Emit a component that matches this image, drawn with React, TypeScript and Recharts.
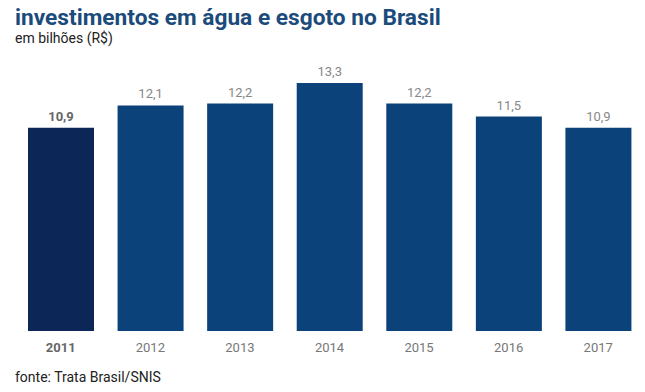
import React from 'react';
import { BarChart, Bar, XAxis, YAxis, LabelList, Cell } from 'recharts';

const years = ['2011', '2012', '2013', '2014', '2015', '2016', '2017'];
const investimentos = [10.9, 12.1, 12.2, 13.3, 12.2, 11.5, 10.9];

const data = years.map((ano, i) => ({ ano, valor: investimentos[i] }));

const FONT = 'Roboto, "Noto Sans", Arial, sans-serif';

const YearTick = (props: any) => {
  const { x, y, payload } = props;
  const first = payload.value === years[0];
  return (
    <text x={x} y={y} dy="0.71em" textAnchor="middle" fontFamily={FONT} fontSize={13}
      fontWeight={first ? 700 : 400} fill={first ? '#666' : '#777'}>
      {payload.value}
    </text>
  );
};

const ValueLabel = (props: any) => {
  const { x, y, width, value, index } = props;
  const first = index === 0;
  return (
    <text x={x + width / 2} y={y - 7} textAnchor="middle" fontFamily={FONT} fontSize={13}
      fontWeight={first ? 700 : 400} fill={first ? '#666' : '#888'}>
      {String(value).replace('.', ',')}
    </text>
  );
};

export default function App() {
  return (
    <div style={{ position: 'absolute', left: 0, top: 0, width: 645, height: 392, background: '#fff', fontFamily: FONT }}>
      <div style={{ position: 'absolute', left: 15, top: 4, fontSize: 22.7, fontWeight: 700, color: '#1b4b7b', whiteSpace: 'nowrap' }}>
        investimentos em água e esgoto no Brasil
      </div>
      <div style={{ position: 'absolute', left: 15, top: 30, fontSize: 14, color: '#222' }}>
        em bilhões (R$)
      </div>
      <div style={{ position: 'absolute', left: 15, top: 369, fontSize: 14, color: '#222' }}>
        fonte: Trata Brasil/SNIS
      </div>
      <div style={{ position: 'absolute', left: 0, top: 0 }}>
        <BarChart width={645} height={392} data={data} margin={{ top: 70, right: 2, left: 16, bottom: 31 }}>
          <YAxis hide domain={[0, 14]} />
          <XAxis dataKey="ano" axisLine={false} tickLine={false} tickSize={0} tickMargin={12} height={30}
            interval={0} tick={<YearTick />} />
          <Bar dataKey="valor" barSize={66} isAnimationActive={false}>
            {data.map((d, i) => (
              <Cell key={d.ano} fill={i === 0 ? '#0d2658' : '#0b4279'} />
            ))}
            <LabelList dataKey="valor" content={<ValueLabel />} />
          </Bar>
        </BarChart>
      </div>
    </div>
  );
}
